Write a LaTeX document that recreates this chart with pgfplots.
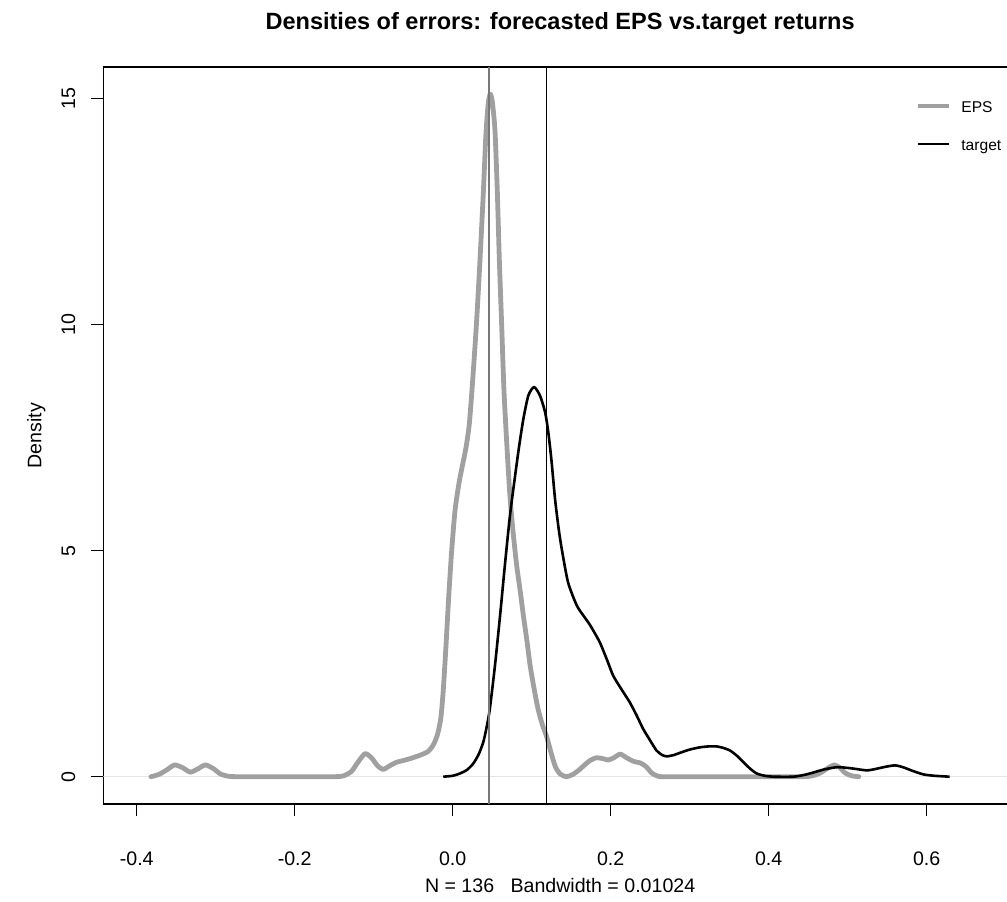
\documentclass[border=0pt]{standalone}
\usepackage{pgfplots}
\pgfplotsset{compat=1.18}
\usepackage{fontspec}
\setmainfont{Liberation Sans}
\definecolor{epsgray}{RGB}{160,160,160}
\definecolor{vgray}{RGB}{120,120,120}

\pgfplotstableread{
x y
-0.382 0.00
-0.372 0.05
-0.362 0.15
-0.352 0.26
-0.342 0.20
-0.332 0.10
-0.322 0.18
-0.313 0.26
-0.303 0.18
-0.294 0.06
-0.284 0.01
-0.270 0.00
-0.200 0.00
-0.150 0.00
-0.138 0.02
-0.128 0.12
-0.120 0.32
-0.111 0.51
-0.103 0.42
-0.095 0.24
-0.088 0.16
-0.080 0.24
-0.071 0.32
-0.062 0.36
-0.054 0.40
-0.042 0.47
-0.031 0.56
-0.024 0.72
-0.019 0.95
-0.015 1.30
-0.012 1.90
-0.0085 2.90
-0.005 4.00
-0.0013 5.00
0.003 5.90
0.008 6.50
0.0125 6.90
0.017 7.30
0.021 7.80
0.025 8.70
0.030 10.00
0.0346 11.45
0.0388 12.93
0.042 14.20
0.045 14.90
0.0475 15.10
0.050 14.95
0.0535 14.30
0.0565 12.93
0.059 11.45
0.062 9.98
0.065 8.50
0.069 7.20
0.0725 6.20
0.0765 5.40
0.081 4.67
0.0855 4.10
0.0894 3.57
0.094 3.00
0.098 2.46
0.103 1.95
0.108 1.50
0.1135 1.15
0.119 0.88
0.125 0.50
0.130 0.22
0.136 0.06
0.144 0.00
0.152 0.05
0.160 0.15
0.167 0.26
0.174 0.36
0.182 0.42
0.190 0.40
0.197 0.37
0.204 0.42
0.212 0.50
0.220 0.42
0.229 0.34
0.238 0.30
0.245 0.22
0.252 0.08
0.260 0.01
0.270 0.00
0.350 0.00
0.440 0.00
0.455 0.02
0.465 0.08
0.475 0.19
0.483 0.26
0.490 0.20
0.497 0.08
0.505 0.02
0.514 0.00
}\epsdens

\pgfplotstableread{
x y
-0.012 0.00
0.000 0.02
0.009 0.07
0.018 0.15
0.026 0.29
0.033 0.50
0.0388 0.77
0.043 1.10
0.047 1.50
0.0535 2.46
0.060 3.57
0.066 4.67
0.0725 5.78
0.079 6.66
0.084 7.30
0.0894 7.91
0.0957 8.43
0.103 8.62
0.1105 8.43
0.117 8.06
0.121 7.62
0.125 7.00
0.1295 6.15
0.134 5.50
0.138 5.04
0.146 4.30
0.157 3.79
0.166 3.55
0.174 3.35
0.186 2.98
0.195 2.60
0.203 2.24
0.213 1.95
0.224 1.65
0.233 1.35
0.241 1.06
0.250 0.80
0.258 0.58
0.265 0.48
0.271 0.45
0.280 0.48
0.288 0.53
0.300 0.60
0.313 0.65
0.324 0.67
0.334 0.67
0.342 0.64
0.351 0.58
0.360 0.46
0.368 0.32
0.377 0.17
0.385 0.07
0.395 0.02
0.406 0.00
0.431 0.00
0.445 0.04
0.456 0.09
0.470 0.16
0.486 0.21
0.497 0.20
0.507 0.18
0.524 0.14
0.535 0.17
0.548 0.22
0.560 0.25
0.570 0.21
0.582 0.13
0.596 0.05
0.610 0.02
0.629 0.00
}\targetdens

\begin{document}
\begin{tikzpicture}
\begin{axis}[
    scale only axis,
    width=456.85pt, height=368.5pt,
    xmin=-0.4423, xmax=0.7143,
    ymin=-0.604, ymax=15.70,
    axis line style={black, line width=0.6pt},
    tick pos=left,
    tick align=outside,
    major tick length=6pt,
    tick style={black, line width=0.5pt},
    xtick={-0.4,-0.2,0,0.2,0.4,0.6},
    xticklabels={-0.4,-0.2,0.0,0.2,0.4,0.6},
    ytick={0,5,10,15},
    yticklabels={0,5,10,15},
    tick label style={font=\fontsize{9.8}{11}\selectfont, inner sep=0pt},
    xticklabel style={anchor=north},
    xticklabel shift=17.5pt,
    yticklabel style={rotate=90, anchor=south},
    yticklabel shift=7.75pt,
    title={Densities of errors: forecasted EPS vs.target returns},
    title style={font=\fontsize{11.76}{14}\selectfont\bfseries, at={(axis description cs:0.5,1)}, anchor=base, yshift=12.5pt, inner sep=0pt},
    xlabel={N = 136\ \ \ Bandwidth = 0.01024},
    xlabel style={font=\fontsize{9.8}{11}\selectfont, at={(axis description cs:0.5,0)}, anchor=base, yshift=-44pt, inner sep=0pt},
    ylabel={Density},
    ylabel style={font=\fontsize{9.8}{11}\selectfont, at={(axis description cs:-0.0679,0.5)}, anchor=base, inner sep=0pt},
]
% faint zero line
\addplot[gray!20, line width=0.3pt] coordinates {(-0.4423,0) (0.7143,0)};
\addplot[epsgray, line width=2.4pt, smooth, tension=0.4, line join=round, line cap=round] table[x=x, y=y] {\epsdens};
\addplot[black, line width=1.3pt, smooth, tension=0.4, line join=round] table[x=x, y=y] {\targetdens};
% vertical reference lines
\addplot[vgray, line width=0.6pt] coordinates {(0.0459,-0.604) (0.0459,15.70)};
\addplot[black, line width=0.5pt] coordinates {(0.1185,-0.604) (0.1185,15.70)};
% legend
\draw[epsgray, line width=2.4pt] (axis description cs:0.8917,0.9471) -- (axis description cs:0.9256,0.9471);
\draw[black, line width=1.3pt] (axis description cs:0.8917,0.8955) -- (axis description cs:0.9256,0.8955);
\node[anchor=base west, inner sep=0pt, font=\fontsize{7.8}{9}\selectfont, yshift=-3.2pt] at (axis description cs:0.9387,0.9471) {EPS};
\node[anchor=base west, inner sep=0pt, font=\fontsize{7.8}{9}\selectfont, yshift=-3.2pt] at (axis description cs:0.9387,0.8955) {target};
\end{axis}
\pgfresetboundingbox
\path[use as bounding box] (-51.65pt,-48.5pt) rectangle (451.85pt,402pt);
\end{tikzpicture}
\end{document}
